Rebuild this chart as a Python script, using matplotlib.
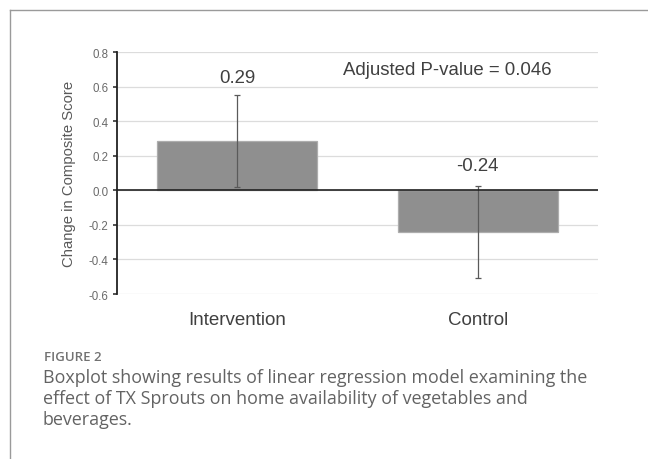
import matplotlib
matplotlib.use('Agg')
import matplotlib.pyplot as plt
from matplotlib.lines import Line2D

groups = ['Intervention', 'Control']
means = [0.285, -0.243]
errors = [0.265, 0.265]
value_labels = ['0.29', '-0.24']
label_y = [0.65, 0.145]
y_ticks = [-0.6, -0.4, -0.2, 0.0, 0.2, 0.4, 0.6, 0.8]
p_text = 'Adjusted P-value = 0.046'
caption_head = 'FIGURE 2'
caption_lines = [
    'Boxplot showing results of linear regression model examining the',
    'effect of TX Sprouts on home availability of vegetables and',
    'beverages.',
]

plt.rcParams['font.family'] = ['Liberation Sans', 'DejaVu Sans']

W, H = 648, 460
fig = plt.figure(figsize=(W / 100, H / 100), dpi=100)
fig.patch.set_facecolor('white')

# axes box in pixels: x 117..598, y 53..295 (from top)
ax = fig.add_axes([117 / W, 1 - 295 / H, (598 - 117) / W, (295 - 53) / H])
ax.set_xlim(-0.5, 1.5)
ax.set_ylim(-0.6, 0.8)

x = list(range(len(groups)))
ax.bar(x, means, width=0.667, color='#8f8f8f', edgecolor='#adadad', linewidth=0.9, zorder=2)
ax.errorbar(x, means, yerr=errors, fmt='none', ecolor='#5a5a5a', elinewidth=0.9,
            capsize=2, capthick=0.9, zorder=3)
ax.axhline(0, color='#222222', linewidth=1.2, zorder=4)

ax.set_yticks(y_ticks)
ax.set_yticklabels(['%.1f' % t for t in y_ticks])
ax.yaxis.grid(True, color='#dcdcdc', linewidth=0.9, zorder=0)
ax.set_axisbelow(True)
ax.tick_params(axis='y', labelsize=8.3, labelcolor='#6a6a6a', length=3, width=1.1,
               color='#222222', pad=3)
ax.set_xticks(x)
ax.set_xticklabels(groups, fontsize=13.5, color='#404040')
ax.tick_params(axis='x', length=0, pad=12)

for s in ['top', 'right', 'bottom']:
    ax.spines[s].set_visible(False)
ax.spines['left'].set_color('#222222')
ax.spines['left'].set_linewidth(1.3)

ax.set_ylabel('Change in Composite Score', fontsize=10.7, color='#595959', labelpad=9)

for xi, lab, ly in zip(x, value_labels, label_y):
    ax.text(xi, ly, lab, ha='center', va='center', fontsize=13.4, color='#404040')
ax.text(0.875, 0.70, p_text, ha='center', va='center', fontsize=13.4, color='#404040')

# frame lines of the figure panel
fig.add_artist(Line2D([10 / W, 1], [1 - 11 / H, 1 - 11 / H], color='#9a9a9a', linewidth=1))
fig.add_artist(Line2D([10 / W, 10 / W], [0, 1 - 11 / H], color='#9a9a9a', linewidth=1))

fig.text(44 / W, 1 - 361 / H, caption_head, fontsize=9.5, color='#727272',
         family=['Open Sans', 'DejaVu Sans'], weight='semibold', va='baseline')
for i, line in enumerate(caption_lines):
    fig.text(43 / W, 1 - (383 + i * 21) / H, line, fontsize=12.9, color='#636363',
             family=['Open Sans', 'DejaVu Sans'], va='baseline')

fig.savefig('out.png', dpi=100)
